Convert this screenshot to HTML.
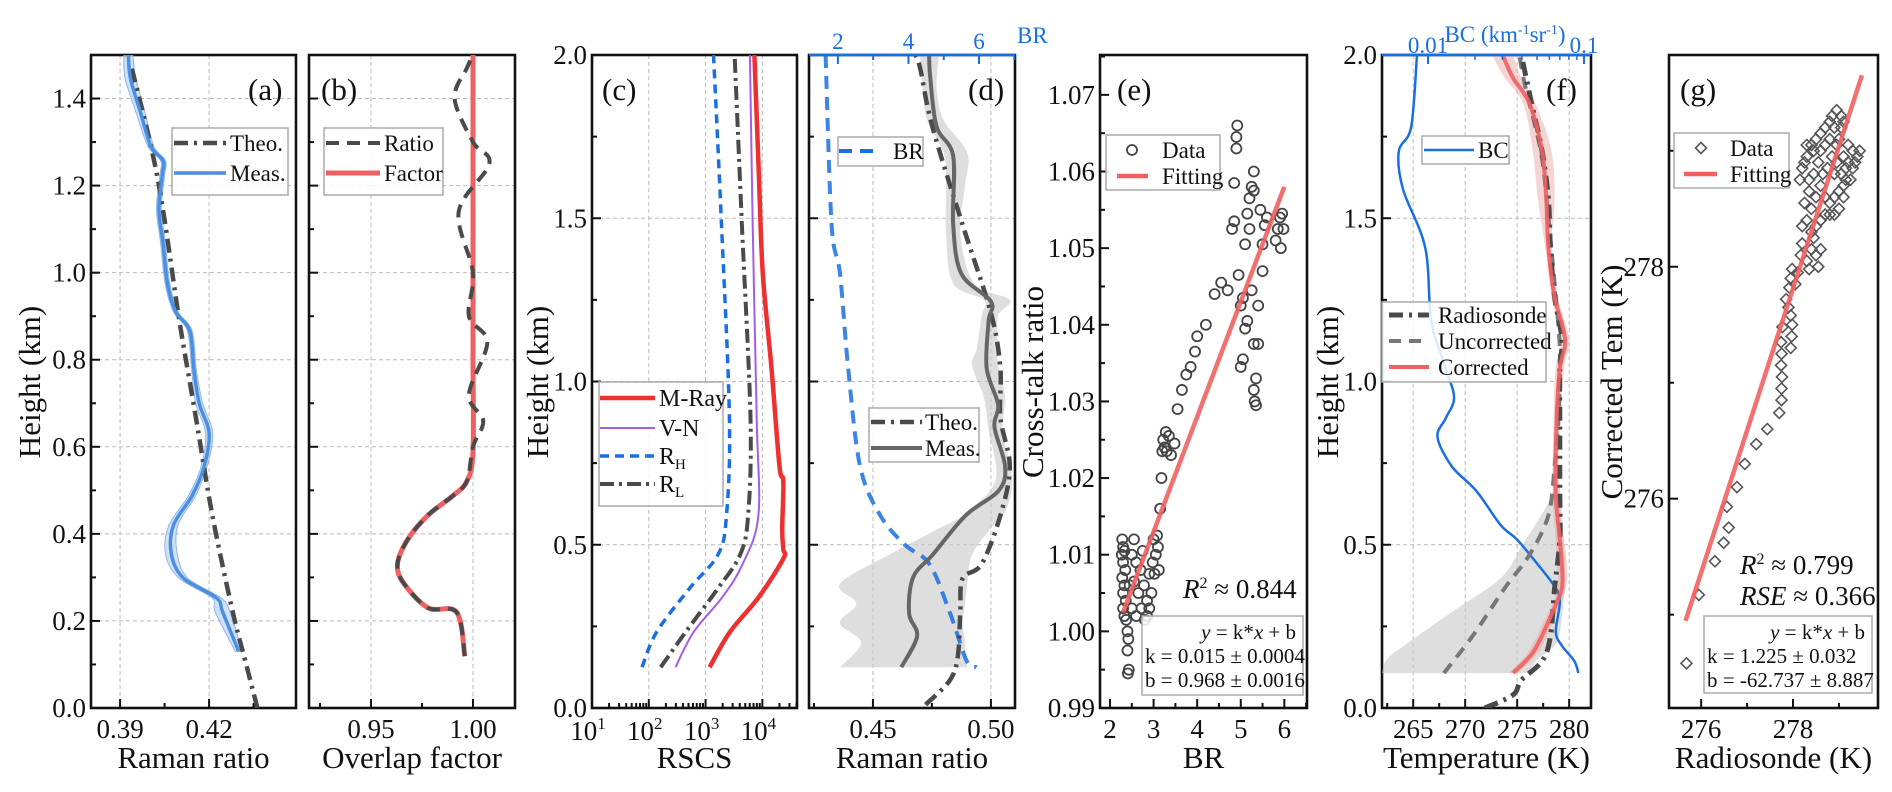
<!DOCTYPE html>
<html><head><meta charset="utf-8"><style>
html,body{margin:0;padding:0;background:#fff;}
svg{display:block;font-family:"Liberation Serif","DejaVu Serif",serif;}
svg text, svg tspan{font-family:"Liberation Serif","DejaVu Serif",serif;}
</style></head><body>
<svg id="fig" width="1892" height="792" viewBox="0 0 1892 792" xmlns="http://www.w3.org/2000/svg" font-family="Liberation Serif, serif"></svg>
<script>
// ---------- DATA ----------
// (a)
const aTheoH=[0,0.108,0.22,0.443,0.666,0.889,1.112,1.246,1.39,1.48];
const aTheoV=[0.4363,0.4322,0.428,0.4211,0.4156,0.41,0.4052,0.4018,0.3969,0.3935];
const aMeasH=[0.13,0.22,0.253,0.298,0.353,0.42,0.487,0.554,0.632,0.699,0.777,0.866,0.911,0.978,1.067,1.145,1.223,1.257,1.29,1.368,1.446,1.5];
const aMeasV=[0.430,0.4246,0.4225,0.4114,0.4073,0.408,0.4142,0.4183,0.420,0.4167,0.4149,0.4135,0.4087,0.4059,0.4045,0.4031,0.4042,0.4045,0.4004,0.3969,0.3935,0.3928];
const aMeasErr=[0.0012,0.0025,0.0015,0.0015,0.002,0.0015,0.0012,0.001,0.0012,0.0012,0.0008,0.0008,0.0008,0.0008,0.0008,0.0008,0.0008,0.0008,0.001,0.0015,0.0018,0.0015];
// (b)
const bFacH=[0.119,0.22,0.23,0.287,0.331,0.387,0.443,0.487,0.521,0.588,0.8,1.0,1.2,1.5];
const bFacV=[0.996,0.992,0.978,0.966,0.963,0.968,0.978,0.990,0.997,1.0,1.0,1.0,1.0,1.0];
const bRatH=[0.119,0.22,0.23,0.287,0.331,0.387,0.443,0.487,0.521,0.6,0.66,0.72,0.84,0.9,1.0,1.14,1.25,1.3,1.4,1.47,1.5];
const bRatV=[0.996,0.992,0.978,0.966,0.963,0.968,0.978,0.990,0.997,1.0,1.005,0.998,1.007,0.998,1.0,0.993,1.008,1.0,0.991,0.997,1.0];
// (c)
const cMrH=[0.125,0.233,0.338,0.457,0.486,0.546,0.694,0.74,1.04,1.33,1.63,2.0];
const cMrV=[1175,2690,8510,23400,23400,22400,23400,20000,14500,10200,8700,7250];
const cVnH=[0.125,0.233,0.338,0.44,0.59,0.89,1.48,2.0];
const cVnV=[295,617,1950,4470,8510,7940,6760,6030];
const cRhH=[0.125,0.233,0.367,0.47,0.59,0.89,1.48,2.0];
const cRhV=[76,138,525,1660,2340,2630,1910,1380];
const cRlH=[0.125,0.233,0.367,0.47,0.59,0.89,1.48,2.0];
const cRlV=[162,447,1660,4070,5620,6170,4370,3240];
// (d)
const dBrH=[2.0,1.48,1.33,1.04,0.74,0.59,0.5,0.44,0.29,0.144,0.125];
const dBrV=[1.65,1.82,2.06,2.29,2.63,3.2,3.9,4.6,5.18,5.65,5.93];
const dTheoH=[0.01,0.085,0.16,0.293,0.397,0.44,0.59,0.74,0.89,1.04,1.21,1.48,1.78,1.96,2.0];
const dTheoV=[0.4723,0.4826,0.486,0.487,0.488,0.496,0.504,0.508,0.504,0.504,0.500,0.488,0.4752,0.470,0.468];
const dMeasH=[0.125,0.22,0.29,0.4,0.47,0.59,0.665,0.74,0.86,0.93,1.04,1.185,1.245,1.33,1.48,1.69,1.78,1.93,2.0];
const dMeasV=[0.462,0.4687,0.4653,0.467,0.4754,0.4893,0.5032,0.506,0.5015,0.503,0.4982,0.499,0.500,0.4875,0.484,0.484,0.477,0.4743,0.4738];
const dBandH=[0.125,0.2,0.26,0.32,0.38,0.47,0.55,0.6,0.7,0.85,0.95,1.05,1.1,1.2,1.25,1.3,1.45,1.6,1.7,1.8,1.9,2.0];
const dBandLo=[0.436,0.445,0.436,0.443,0.436,0.457,0.478,0.49,0.502,0.499,0.497,0.492,0.494,0.496,0.497,0.484,0.481,0.481,0.480,0.473,0.471,0.470];
const dBandHi=[0.490,0.489,0.488,0.489,0.490,0.492,0.500,0.506,0.509,0.505,0.506,0.503,0.503,0.503,0.508,0.493,0.487,0.489,0.490,0.480,0.477,0.478];
// (e)
const eBR=[2.28,2.3,2.33,2.27,2.3,2.35,2.28,2.33,2.3,2.36,2.3,2.33,2.37,2.4,2.42,2.4,2.43,2.41,2.45,2.5,2.55,2.5,2.55,2.6,2.65,2.6,2.7,2.72,2.75,2.78,2.8,2.85,2.85,2.9,2.9,2.95,2.98,3.0,3.02,3.05,3.08,3.1,3.12,3.15,3.18,3.2,3.22,3.25,3.28,3.3,3.35,3.4,3.48,3.55,3.65,3.75,3.85,3.95,4.2,4.55,4.7,4.8,4.85,4.9,4.92,4.9,4.85,4.95,5.0,5.05,5.1,5.15,5.2,5.25,5.3,5.3,5.2,5.1,5.05,5.0,5.15,5.25,5.3,5.4,5.35,5.3,5.35,5.32,5.4,5.5,5.5,5.55,5.45,5.6,5.85,5.9,5.95,5.8,5.98,5.92,4.0,4.4];
const eCT=[1.012,1.011,1.0105,1.010,1.009,1.008,1.007,1.006,1.005,1.004,1.003,1.002,1.0015,1.0,0.999,0.9975,0.995,0.9945,1.006,1.010,1.012,1.003,1.0065,1.009,1.005,1.002,1.008,1.003,1.0105,1.006,1.0015,1.004,1.002,1.0075,1.003,1.005,1.009,1.012,1.0075,1.01,1.0125,1.011,1.008,1.016,1.02,1.0235,1.025,1.024,1.026,1.0235,1.0255,1.023,1.0245,1.029,1.0315,1.0335,1.0345,1.0365,1.040,1.0455,1.0445,1.0525,1.0535,1.063,1.066,1.0645,1.0585,1.0465,1.0425,1.0435,1.0505,1.0545,1.0565,1.058,1.06,1.0575,1.0525,1.0395,1.0355,1.0345,1.0405,1.0445,1.0375,1.0375,1.033,1.0315,1.0295,1.03,1.0425,1.047,1.0505,1.053,1.055,1.054,1.0525,1.054,1.0545,1.051,1.0525,1.05,1.0385,1.044];
const eFitK=0.015, eFitB=0.968;
const eFitX=[2.3,6.0];
// (f)
const fBcH=[2.0,1.78,1.705,1.59,1.41,1.185,1.04,0.95,0.888,0.83,0.74,0.665,0.56,0.516,0.44,0.367,0.323,0.233,0.19,0.144,0.107];
const fBcV=[0.0085,0.0078,0.0065,0.0069,0.0096,0.0105,0.013,0.0147,0.013,0.0115,0.0142,0.0204,0.0293,0.0372,0.0505,0.066,0.070,0.066,0.0724,0.0867,0.092];
const fRsH=[0,0.04,0.085,0.144,0.22,0.367,0.516,0.665,0.888,1.04,1.13,1.26,1.41,1.557,1.705,1.85,2.0];
const fRsV=[271.9,274.6,275.4,277.4,278.2,278.6,279.1,279.1,279.1,279.1,279.3,278.6,278.2,278.0,277.4,276.4,275.4];
const fCoH=[0.107,0.174,0.293,0.367,0.44,0.516,0.665,0.888,1.04,1.13,1.26,1.41,1.557,1.705,1.85,1.93,2.0];
const fCoV=[274.6,276.6,278.4,279.3,279.3,279.1,278.7,278.8,279.1,279.6,278.6,278.0,277.8,277.4,276.2,274.6,273.6];
const fCoErr=[0.4,0.5,0.4,0.4,0.5,0.4,0.3,0.3,0.4,0.4,0.3,0.3,0.8,0.9,0.6,0.8,1.0];
const fUnH=[0.107,0.22,0.367,0.47,0.59,0.74,0.9,1.1,1.3,1.5,1.7,1.9,2.0];
const fUnV=[267.95,270.7,273.8,276.2,278.0,278.6,279.0,279.1,278.6,278.0,277.3,275.8,275.2];
const fBandH=[0.107,0.15,0.2,0.3,0.4,0.5,0.6,0.65,0.7];
const fBandLo=[262,262.5,264.5,269,273.5,275.5,277.5,278.3,278.9];
const fBandHi=[276,277,278.8,279.4,279.6,279.5,279.3,279.2,279.0];
// (g)
const gRad=[275.68,275.95,276.3,276.49,276.6,276.56,276.78,276.95,277.2,277.44,277.7,277.75,277.75,277.76,277.74,277.75,277.74,277.77,277.95,277.97,277.98,277.95,277.9,277.85,277.92,277.95,277.98,278.05,278.1,278.17,278.2,278.3,278.4,278.5,278.6,278.55,278.35,278.2,278.3,278.4,278.25,278.35,278.5,278.6,278.7,278.8,278.9,279.0,279.1,279.15,278.15,278.2,278.3,278.4,278.5,278.6,278.7,278.8,278.9,279.0,279.05,278.95,278.85,278.75,278.65,278.55,278.45,278.35,278.25,278.3,278.45,278.6,278.7,278.8,278.95,279.05,278.9,279.1,279.2,279.3,279.35,279.4,279.45,279.3,279.2,279.15,279.25,279.1,279.0,278.9,278.8,278.7,278.6,278.5,278.45,278.4,278.95,279.05,279.1,278.85];
const gCor=[274.58,275.17,275.46,275.62,275.75,275.93,276.1,276.3,276.47,276.6,276.74,276.85,276.95,277.05,277.15,277.25,277.35,277.48,277.3,277.4,277.5,277.58,277.65,277.72,277.82,277.9,277.98,277.85,277.95,278.1,278.2,278.05,278.15,278.1,278.15,278.0,277.98,278.35,278.4,278.5,278.55,278.65,278.6,278.7,278.6,278.55,278.6,278.65,278.7,278.75,278.75,278.85,278.95,279.05,279.1,279.15,279.2,279.25,279.2,279.1,279.2,279.05,278.95,278.85,278.8,278.9,278.8,278.75,278.9,279.05,279.0,279.0,279.05,279.1,278.9,278.8,278.8,278.95,278.9,278.85,278.9,278.95,279.0,279.0,279.05,278.85,278.75,278.6,278.5,278.45,278.45,278.45,278.4,278.35,278.25,278.3,279.35,279.3,279.25,279.3];
const gFitK=1.225, gFitB=-62.737;
const gFitX=[275.66,279.5];

// ---------- RENDER ----------
const NS="http://www.w3.org/2000/svg";
const svg=document.getElementById('fig');
function mk(tag,attrs,parent){const e=document.createElementNS(NS,tag);for(const k in attrs)e.setAttribute(k,attrs[k]);(parent||svg).appendChild(e);return e;}
const P={
 a:{x0:91,x1:296,y0:55,y1:708,xmin:0.3802,xmax:0.4493,ymin:0,ymax:1.5},
 b:{x0:309,x1:515,y0:55,y1:708,xmin:0.9196,xmax:1.0206,ymin:0,ymax:1.5},
 c:{x0:592,x1:797,y0:55,y1:708,xmin:1,xmax:4.61,ymin:0,ymax:2,log:true},
 d:{x0:809,x1:1015,y0:55,y1:708,xmin:0.4229,xmax:0.5102,ymin:0,ymax:2},
 dt:{x0:809,x1:1015,y0:55,y1:708,xmin:1.18,xmax:7.02,ymin:0,ymax:2},
 e:{x0:1100,x1:1307,y0:55,y1:708,xmin:1.77,xmax:6.52,ymin:0.99,ymax:1.0752},
 f:{x0:1382,x1:1591,y0:55,y1:708,xmin:262.0,xmax:282.1,ymin:0,ymax:2},
 ft:{x0:1382,x1:1591,y0:55,y1:708,xmin:-2.295,xmax:-0.955,ymin:0,ymax:2,log:true},
 g:{x0:1669,x1:1878,y0:55,y1:708,xmin:275.30,xmax:279.85,ymin:274.195,ymax:279.826}
};
function sx(p,v){const t=p.log?Math.log10(v):v;return p.x0+(t-p.xmin)/(p.xmax-p.xmin)*(p.x1-p.x0);}
function sy(p,v){return p.y1-(v-p.ymin)/(p.ymax-p.ymin)*(p.y1-p.y0);}
function smooth(pts){
 if(pts.length<2)return '';
 let d='M'+pts[0][0].toFixed(1)+','+pts[0][1].toFixed(1);
 for(let i=0;i<pts.length-1;i++){
  const p0=pts[i-1]||pts[i],p1=pts[i],p2=pts[i+1],p3=pts[i+2]||p2;
  const c1=[p1[0]+(p2[0]-p0[0])/6,p1[1]+(p2[1]-p0[1])/6],c2=[p2[0]-(p3[0]-p1[0])/6,p2[1]-(p3[1]-p1[1])/6];
  d+='C'+c1[0].toFixed(1)+','+c1[1].toFixed(1)+' '+c2[0].toFixed(1)+','+c2[1].toFixed(1)+' '+p2[0].toFixed(1)+','+p2[1].toFixed(1);
 }
 return d;
}
function profPts(p,H,V){return H.map((h,i)=>[sx(p,V[i]),sy(p,h)]);}
function clip(p,id){const c=mk('clipPath',{id:id});mk('rect',{x:p.x0,y:p.y0,width:p.x1-p.x0,height:p.y1-p.y0},c);return 'url(#'+id+')';}
function txt(s,x,y,size,anchor,parent,extra){const t=mk('text',Object.assign({x:x,y:y,'font-size':size,'text-anchor':anchor||'middle',fill:'#111','font-family':'Liberation Serif, serif'},extra||{}),parent);t.textContent=s;return t;}

function axes(p,key,o){
 const g=mk('g',{});
 
 
 (o.gx||[]).forEach(v=>{const l=mk('line',{x1:sx(p,v),x2:sx(p,v),y1:p.y0,y2:p.y1,stroke:'#bbb','stroke-width':1,'stroke-dasharray':'4,3'},g);
  
  });
 (o.gy||[]).forEach(v=>{const l=mk('line',{x1:p.x0,x2:p.x1,y1:sy(p,v),y2:sy(p,v),stroke:'#bbb','stroke-width':1,'stroke-dasharray':'4,3'},g);
  
  });
 (o.xt||[]).forEach(v=>{const l=mk('line',{x1:sx(p,v),x2:sx(p,v),y1:p.y1,y2:p.y1-9,stroke:'#111','stroke-width':2},g);
  
  });
 (o.xm||[]).forEach(v=>{const l=mk('line',{x1:sx(p,v),x2:sx(p,v),y1:p.y1,y2:p.y1-5,stroke:'#111','stroke-width':2},g);
  
  });
 (o.yt||[]).forEach(v=>{const l=mk('line',{x1:p.x0,x2:p.x0+9,y1:sy(p,v),y2:sy(p,v),stroke:'#111','stroke-width':2},g);
  
  });
 (o.ym||[]).forEach(v=>{const l=mk('line',{x1:p.x0,x2:p.x0+5,y1:sy(p,v),y2:sy(p,v),stroke:'#111','stroke-width':2},g);
  
  });
 (o.xl||[]).forEach(([v,s])=>{const t=txt(s,sx(p,v),738,27,'middle',g);
  
  });
 (o.yl||[]).forEach(([v,s])=>{const t=txt(s,p.x0-5,sy(p,v)+9,27,'end',g);
  
  });
 const fr=mk('rect',{x:p.x0,y:p.y0,width:p.x1-p.x0,height:p.y1-p.y0,fill:'none',stroke:'#111','stroke-width':2.6},g);
 
 
 if(o.xtitle){const t=txt(o.xtitle,(p.x0+p.x1)/2,768,31,'middle',g);
  
  }
 if(o.ytitle){const t=mk('text',{x:0,y:0,'font-size':31,'text-anchor':'middle',fill:'#111','font-family':'Liberation Serif, serif',transform:'translate('+o.ytx+',382) rotate(-90)'},g);t.textContent=o.ytitle;
  
  }
 if(o.label){const t=txt(o.label[0],o.label[1],100,31,'start',g);
  
  }
 return g;
}
function rng(a,b,s){const r=[];for(let v=a;v<=b+1e-9;v+=s)r.push(+v.toFixed(6));return r;}
function legendBox(x,y,w,h,name){const r=mk('rect',{x:x,y:y,width:w,height:h,fill:'#fff','fill-opacity':0.85,stroke:'#aaa','stroke-width':1.5});
 
 return r;}
function legLine(x1,x2,y,st,name){const l=mk('line',Object.assign({x1:x1,x2:x2,y1:y,y2:y,fill:'none'},st));
 
 return l;}
function legText(s,x,y,name,size){const t=txt(s,x,y+8,size||23,'start');
 
 return t;}
function pathEl(d,st,name,cp){const e=mk('path',Object.assign({d:d,fill:'none','stroke-linejoin':'round','stroke-linecap':'butt'},st,cp?{'clip-path':cp}:{}));
 
 return e;}
function bandPath(p,H,lo,hi){const L=H.map((h,i)=>[sx(p,lo[i]),sy(p,h)]);const R=H.map((h,i)=>[sx(p,hi[i]),sy(p,h)]).reverse();
 const sr=smooth(R);
 return smooth(L)+'L'+R[0][0].toFixed(1)+','+R[0][1].toFixed(1)+sr.slice(sr.indexOf('C'))+'Z';}

const DK='#4a4a4a', BLUE='#1a6fe0', MBLUE='#4a8fe0', RED='#f06060';
// ===== (a) =====
{const p=P.a;const cp=clip(p,'ca');
axes(p,'a',{gx:[0.39,0.42],gy:rng(0.2,1.4,0.2),xt:[0.39,0.42],xm:[0.405,0.435],yt:rng(0,1.4,0.2),ym:rng(0.1,1.5,0.2),
 xl:[[0.39,'0.39'],[0.42,'0.42']],yl:rng(0,1.4,0.2).map(v=>[v,v.toFixed(1)]),xtitle:'Raman ratio',ytitle:'Height (km)',ytx:40,label:['(a)',248]});
pathEl(bandPath(p,aMeasH,aMeasV.map((v,i)=>v-aMeasErr[i]),aMeasV.map((v,i)=>v+aMeasErr[i])),{fill:'#a9c8f0','fill-opacity':0.55,stroke:'#8fb6ea','stroke-width':1},'meas-error-band',cp);
pathEl(smooth(profPts(p,aTheoH,aTheoV)),{stroke:DK,'stroke-width':4.5,'stroke-dasharray':'14,6,3,6'},'theo-line',cp);
pathEl(smooth(profPts(p,aMeasH,aMeasV)),{stroke:MBLUE,'stroke-width':3.5},'meas-line',cp);
legendBox(172,128,116,67,'legend-a');
legLine(174,226,143,{stroke:DK,'stroke-width':4.5,'stroke-dasharray':'14,6,3,6'},'legend-theo-swatch');
legText('Theo.',230,143,'legend-theo-label');
legLine(174,226,173,{stroke:MBLUE,'stroke-width':3.5},'legend-meas-swatch');
legText('Meas.',230,173,'legend-meas-label');}
// ===== (b) =====
{const p=P.b;const cp=clip(p,'cb');
axes(p,'b',{gx:[0.95,1.0],gy:rng(0.2,1.4,0.2),xt:[0.95,1.0],xm:[0.925,0.975],yt:rng(0,1.4,0.2),ym:rng(0.1,1.5,0.2),
 xl:[[0.95,'0.95'],[1.0,'1.00']],xtitle:'Overlap factor',label:['(b)',321]});
pathEl(smooth(profPts(p,bFacH,bFacV)),{stroke:RED,'stroke-width':5},'factor-line',cp);
pathEl(smooth(profPts(p,bRatH,bRatV)),{stroke:DK,'stroke-width':4,'stroke-dasharray':'13,8'},'ratio-line',cp);
legendBox(324,128,119,67,'legend-b');
legLine(326,380,143,{stroke:DK,'stroke-width':4,'stroke-dasharray':'13,8'},'legend-ratio-swatch');
legText('Ratio',384,143,'legend-ratio-label');
legLine(326,380,173,{stroke:RED,'stroke-width':5},'legend-factor-swatch');
legText('Factor',384,173,'legend-factor-label');}
// ===== (c) =====
{const p=P.c;const cp=clip(p,'cc');
const minors=[];for(let d=1;d<=4;d++)for(let m=2;m<=9;m++){const v=m*Math.pow(10,d);if(Math.log10(v)<4.61)minors.push(v);}
axes(p,'c',{gx:[100,1000,10000],gy:[0.5,1,1.5],xt:[10,100,1000,10000],xm:minors,yt:rng(0,2,0.5),ym:rng(0.25,1.75,0.5),
 yl:rng(0,2,0.5).map(v=>[v,v.toFixed(1)]),xtitle:'RSCS',ytitle:'Height (km)',ytx:548,label:['(c)',602]});
[[10,'1'],[100,'2'],[1000,'3'],[10000,'4']].forEach(([v,e])=>{const t=mk('text',{x:sx(p,v)-4,y:740,'font-size':27,'text-anchor':'middle',fill:'#111','font-family':'Liberation Serif, serif'});
 
 
 const a=mk('tspan',{},t);a.textContent='10';const b=mk('tspan',{dy:-11,'font-size':17},t);b.textContent=e;});
pathEl(smooth(profPts(p,cRhH,cRhV)),{stroke:BLUE,'stroke-width':3.5,'stroke-dasharray':'9,6'},'rh-line',cp);
pathEl(smooth(profPts(p,cRlH,cRlV)),{stroke:DK,'stroke-width':4,'stroke-dasharray':'14,5,3,5'},'rl-line',cp);
pathEl(smooth(profPts(p,cVnH,cVnV)),{stroke:'#a45ee0','stroke-width':2},'vn-line',cp);
pathEl(smooth(profPts(p,cMrH,cMrV)),{stroke:'#ee3030','stroke-width':4.5},'mray-line',cp);
legendBox(599,382,124,124,'legend-c');
legLine(600,655,398,{stroke:'#ee3030','stroke-width':4.5},'legend-mray-swatch');
legText('M-Ray',659,398,'legend-mray-label',24);
legLine(600,655,428,{stroke:'#a45ee0','stroke-width':2},'legend-vn-swatch');
legText('V-N',659,428,'legend-vn-label',24);
legLine(600,655,456,{stroke:BLUE,'stroke-width':3.5,'stroke-dasharray':'9,6'},'legend-rh-swatch');
{const t=legText('R',659,456,'legend-rh-label',24);const s=mk('tspan',{dy:5,'font-size':15},t);s.textContent='H';}
legLine(600,655,484,{stroke:DK,'stroke-width':4,'stroke-dasharray':'14,5,3,5'},'legend-rl-swatch');
{const t=legText('R',659,484,'legend-rl-label',24);const s=mk('tspan',{dy:5,'font-size':15},t);s.textContent='L';}}
// ===== (d) =====
{const p=P.d,pt=P.dt;const cp=clip(p,'cd');
axes(p,'d',{gx:[0.45,0.5],gy:[0.5,1,1.5],xt:[0.45,0.5],xm:[0.425,0.475],yt:rng(0,2,0.5),ym:rng(0.25,1.75,0.5),
 xl:[[0.45,'0.45'],[0.5,'0.50']],xtitle:'Raman ratio',label:['(d)',968]});
pathEl(bandPath(p,dBandH,dBandLo,dBandHi),{fill:'#c8c8c8','fill-opacity':0.6,stroke:'none'},'meas-error-band',cp);
pathEl(smooth(profPts(pt,dBrH,dBrV)),{stroke:BLUE,'stroke-width':4,'stroke-dasharray':'13,8','stroke-opacity':0.85},'br-line',cp);
pathEl(smooth(profPts(p,dTheoH,dTheoV)),{stroke:DK,'stroke-width':4.5,'stroke-dasharray':'14,6,3,6'},'theo-line',cp);
pathEl(smooth(profPts(p,dMeasH,dMeasV)),{stroke:'#666','stroke-width':4},'meas-line',cp);
const tl=mk('line',{x1:p.x0,x2:p.x1,y1:p.y0,y2:p.y0,stroke:BLUE,'stroke-width':2.6});


[2,4,6].forEach(v=>{const l=mk('line',{x1:sx(pt,v),x2:sx(pt,v),y1:p.y0,y2:p.y0+9,stroke:BLUE,'stroke-width':2});
 
 
 const t=txt(String(v),sx(pt,v),49,23,'middle',null,{fill:BLUE});
 
 });
[3,5,7].forEach(v=>{if(v<7.02){const l=mk('line',{x1:sx(pt,v),x2:sx(pt,v),y1:p.y0,y2:p.y0+5,stroke:BLUE,'stroke-width':2});
 
 }});
{const t=txt('BR',1017,43,23,'start',null,{fill:BLUE});
 
 }
legendBox(838,137,85,29,'legend-d-br');
legLine(839,877,151,{stroke:BLUE,'stroke-width':4,'stroke-dasharray':'13,8'},'legend-br-swatch');
legText('BR',893,151,'legend-br-label');
legendBox(869,408,110,54,'legend-d');
legLine(871,922,422,{stroke:DK,'stroke-width':4.5,'stroke-dasharray':'14,6,3,6'},'legend-theo-swatch');
legText('Theo.',925,422,'legend-theo-label');
legLine(871,922,448,{stroke:'#666','stroke-width':4},'legend-meas-swatch');
legText('Meas.',925,448,'legend-meas-label');}
// ===== (e) =====
{const p=P.e;const cp=clip(p,'ce');
axes(p,'e',{xt:[2,3,4,5,6],xm:[2.5,3.5,4.5,5.5,6.5],yt:rng(0.99,1.07,0.01),ym:rng(0.995,1.075,0.01),
 xl:[2,3,4,5,6].map(v=>[v,String(v)]),yl:rng(0.99,1.07,0.01).map(v=>[v,v.toFixed(2)]),xtitle:'BR',ytitle:'Cross-talk ratio',ytx:1043,label:['(e)',1117]});
const g=mk('g',{'clip-path':cp});


eBR.forEach((x,i)=>{const c=mk('circle',{cx:sx(p,x),cy:sy(p,eCT[i]),r:5,fill:'none',stroke:'#444','stroke-width':1.8},g);
 
 });
const fl=mk('line',{x1:sx(p,eFitX[0]),y1:sy(p,eFitK*eFitX[0]+eFitB),x2:sx(p,eFitX[1]),y2:sy(p,eFitK*eFitX[1]+eFitB),stroke:RED,'stroke-width':4.5,'stroke-opacity':0.9});


legendBox(1106,135,114,55,'legend-e');
{const c=mk('circle',{cx:1132,cy:150,r:5,fill:'none',stroke:'#444','stroke-width':1.8});
 
 }
legText('Data',1162,150,'legend-data-label');
legLine(1117,1148,176,{stroke:RED,'stroke-width':4.5},'legend-fitting-swatch');
legText('Fitting',1162,176,'legend-fitting-label');
{const t=mk('text',{x:1183,y:598,'font-size':27,fill:'#111','font-family':'Liberation Serif, serif'});
 
 
 const a=mk('tspan',{'font-style':'italic'},t);a.textContent='R';const b=mk('tspan',{dy:-10,'font-size':16},t);b.textContent='2';const c=mk('tspan',{dy:10},t);c.textContent=' ≈ 0.844';}
legendBox(1142,616,161,79,'equation-box-e');
{const t=mk('text',{x:1296,y:639,'font-size':21,'text-anchor':'end',fill:'#111','font-family':'Liberation Serif, serif'});
 
 
 const a=mk('tspan',{'font-style':'italic'},t);a.textContent='y';const b=mk('tspan',{},t);b.textContent=' = k*';const c=mk('tspan',{'font-style':'italic'},t);c.textContent='x';const d=mk('tspan',{},t);d.textContent=' + b';}
{const t=txt('k = 0.015 ± 0.0004',1145,663,21,'start');}
{const t=txt('b = 0.968 ± 0.0016',1145,687,21,'start');}}
// ===== (f) =====
{const p=P.f,pt=P.ft;const cp=clip(p,'cf');
axes(p,'f',{gx:[265,270,275,280],gy:[0.5,1,1.5],xt:[265,270,275,280],xm:[262.5,267.5,272.5,277.5],yt:rng(0,2,0.5),ym:rng(0.25,1.75,0.5),
 xl:[265,270,275,280].map(v=>[v,String(v)]),yl:rng(0,2,0.5).map(v=>[v,v.toFixed(1)]),xtitle:'Temperature (K)',ytitle:'Height (km)',ytx:1338,label:['(f)',1546]});
pathEl(bandPath(p,fBandH,fBandLo,fBandHi),{fill:'#c8c8c8','fill-opacity':0.6,stroke:'none'},'uncorrected-error-band',cp);
pathEl(bandPath(p,fCoH,fCoV.map((v,i)=>v-fCoErr[i]),fCoV.map((v,i)=>v+fCoErr[i])),{fill:'#e8a0a0','fill-opacity':0.45,stroke:'none'},'corrected-error-band',cp);
pathEl(smooth(profPts(pt,fBcH,fBcV)),{stroke:BLUE,'stroke-width':2.5},'bc-line',cp);
pathEl(smooth(profPts(p,fUnH,fUnV)),{stroke:'#777','stroke-width':4,'stroke-dasharray':'12,8'},'uncorrected-line',cp);
pathEl(smooth(profPts(p,fRsH,fRsV)),{stroke:DK,'stroke-width':5,'stroke-dasharray':'14,6,3,6'},'radiosonde-line',cp);
pathEl(smooth(profPts(p,fCoH,fCoV)),{stroke:RED,'stroke-width':4,'stroke-opacity':0.9},'corrected-line',cp);
const tl=mk('line',{x1:p.x0,x2:p.x1,y1:p.y0,y2:p.y0,stroke:BLUE,'stroke-width':2.6});


[[0.01,'0.01'],[0.1,'0.1']].forEach(([v,s])=>{const l=mk('line',{x1:sx(pt,v),x2:sx(pt,v),y1:p.y0,y2:p.y0+9,stroke:BLUE,'stroke-width':2});
 
 
 const t=txt(s,sx(pt,v),53,23,'middle',null,{fill:BLUE});
 
 });
for(let m=2;m<=9;m++){const v=m*0.01;const l=mk('line',{x1:sx(pt,v),x2:sx(pt,v),y1:p.y0,y2:p.y0+5,stroke:BLUE,'stroke-width':1.5});
 
 }
{const t=mk('text',{x:1505,y:42,'font-size':23,'text-anchor':'middle',fill:BLUE,'font-family':'Liberation Serif, serif'});
 
 
 const a=mk('tspan',{},t);a.textContent='BC (km';const b=mk('tspan',{dy:-8,'font-size':14},t);b.textContent='-1';const c=mk('tspan',{dy:8},t);c.textContent='sr';const d=mk('tspan',{dy:-8,'font-size':14},t);d.textContent='-1';const e=mk('tspan',{dy:8},t);e.textContent=')';}
legendBox(1422,136,87,28,'legend-f-bc');
legLine(1424,1474,150,{stroke:BLUE,'stroke-width':2.5},'legend-bc-swatch');
legText('BC',1478,150,'legend-bc-label');
legendBox(1382,302,164,80,'legend-f');
legLine(1389,1429,315,{stroke:DK,'stroke-width':5,'stroke-dasharray':'14,6,3,6'},'legend-radiosonde-swatch');
legText('Radiosonde',1438,315,'legend-radiosonde-label');
legLine(1389,1429,341,{stroke:'#777','stroke-width':4,'stroke-dasharray':'12,8'},'legend-uncorrected-swatch');
legText('Uncorrected',1438,341,'legend-uncorrected-label');
legLine(1389,1429,367,{stroke:RED,'stroke-width':4},'legend-corrected-swatch');
legText('Corrected',1438,367,'legend-corrected-label');}
// ===== (g) =====
{const p=P.g;const cp=clip(p,'cg');
axes(p,'g',{xt:[276,278],xm:[277,279],yt:[276,278],ym:[275,277,279],
 xl:[[276,'276'],[278,'278']],yl:[[276,'276'],[278,'278']],xtitle:'Radiosonde (K)',ytitle:'Corrected Tem (K)',ytx:1622,label:['(g)',1680]});
const g=mk('g',{'clip-path':cp});


gRad.forEach((x,i)=>{const cx=sx(p,x),cy=sy(p,gCor[i]);const d=mk('path',{d:'M'+cx+','+(cy-5.5)+'L'+(cx+5.5)+','+cy+'L'+cx+','+(cy+5.5)+'L'+(cx-5.5)+','+cy+'Z',fill:'none',stroke:'#555','stroke-width':1.6},g);
 
 });
const fl=mk('line',{x1:sx(p,gFitX[0]),y1:sy(p,gFitK*gFitX[0]+gFitB),x2:sx(p,gFitX[1]),y2:sy(p,gFitK*gFitX[1]+gFitB),stroke:RED,'stroke-width':4.5,'stroke-opacity':0.9});


legendBox(1674,133,115,55,'legend-g');
{const d=mk('path',{d:'M1701,142.5L1706.5,148L1701,153.5L1695.5,148Z',fill:'none',stroke:'#555','stroke-width':1.6});
 
 }
legText('Data',1730,148,'legend-data-label');
legLine(1684,1717,174,{stroke:RED,'stroke-width':4.5},'legend-fitting-swatch');
legText('Fitting',1730,174,'legend-fitting-label');
{const t=mk('text',{x:1740,y:574,'font-size':27,fill:'#111','font-family':'Liberation Serif, serif'});
 
 
 const a=mk('tspan',{'font-style':'italic'},t);a.textContent='R';const b=mk('tspan',{dy:-10,'font-size':16},t);b.textContent='2';const c=mk('tspan',{dy:10},t);c.textContent=' ≈ 0.799';}
{const t=mk('text',{x:1740,y:605,'font-size':27,fill:'#111','font-family':'Liberation Serif, serif'});
 
 
 const a=mk('tspan',{'font-style':'italic'},t);a.textContent='RSE';const c=mk('tspan',{},t);c.textContent=' ≈ 0.366';}
legendBox(1704,616,168,77,'equation-box-g');
{const t=mk('text',{x:1865,y:639,'font-size':21,'text-anchor':'end',fill:'#111','font-family':'Liberation Serif, serif'});
 
 
 const a=mk('tspan',{'font-style':'italic'},t);a.textContent='y';const b=mk('tspan',{},t);b.textContent=' = k*';const c=mk('tspan',{'font-style':'italic'},t);c.textContent='x';const d=mk('tspan',{},t);d.textContent=' + b';}
{const t=txt('k = 1.225 ± 0.032',1707,663,21,'start');}
{const t=txt('b = -62.737 ± 8.887',1707,687,21,'start');}}
</script>
</body></html>
